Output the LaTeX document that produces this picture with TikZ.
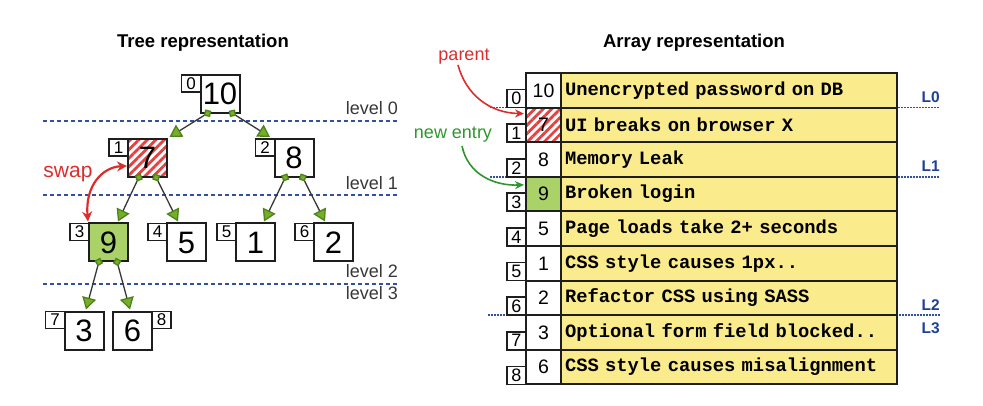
\documentclass[tikz,border=0pt]{standalone}
\usepackage{fontspec}
\setmainfont{Liberation Sans}
\setmonofont{Liberation Mono}
\usetikzlibrary{arrows.meta, positioning, patterns.meta}

\definecolor{boxgray}{RGB}{30,30,30}
\definecolor{edgegray}{RGB}{55,55,55}
\definecolor{tipgreen}{RGB}{115,175,40}
\definecolor{tipdark}{RGB}{80,130,25}
\definecolor{newgreen}{RGB}{170,210,105}
\definecolor{hatchred}{RGB}{230,65,65}
\definecolor{swapred}{RGB}{220,45,45}
\definecolor{entrygreen}{RGB}{45,150,45}
\definecolor{noteyellow}{RGB}{250,235,140}
\definecolor{levelblue}{RGB}{50,80,160}
\definecolor{markblue}{RGB}{30,65,150}
\definecolor{labelgray}{RGB}{55,55,55}

\tikzset{
  key/.style={draw=boxgray, line width=2pt, fill=white, outer sep=0pt, inner sep=0pt,
    minimum width=39pt, minimum height=38pt, font=\fontsize{31}{31}\selectfont},
  idx/.style={draw=boxgray, line width=1.8pt, fill=white, outer sep=0pt, inner sep=0pt,
    minimum width=19pt, minimum height=17pt, font=\fontsize{17}{17}\selectfont},
  hatched/.style={pattern={Lines[angle=45,distance=6pt,line width=2.8pt]}, pattern color=hatchred},
  picked/.style={fill=newgreen},
  whitecell/.style={fill=white},
  edge/.style={draw=edgegray, line width=1.3pt, shorten <=-4pt,
    {Diamond[length=9pt,width=9pt,fill=tipgreen,color=tipdark]}-{Triangle[length=12pt,width=14pt,fill=tipgreen,color=tipdark]}},
  level/.style={draw=levelblue, line width=1.8pt, dash pattern=on 4pt off 3pt},
  levelname/.style={text=labelgray, font=\fontsize{18}{18}\selectfont, anchor=base east, inner sep=0pt},
  title/.style={font=\bfseries\fontsize{18.5}{18.5}\selectfont, inner sep=0pt},
  cell/.style={draw=boxgray, line width=2pt, outer sep=0pt, inner sep=0pt,
    minimum width=35pt, minimum height=34.6pt, font=\fontsize{19.5}{19.5}\selectfont},
  desc/.style={draw=boxgray, line width=2pt, fill=noteyellow, outer sep=0pt, inner xsep=4pt, inner ysep=0pt,
    text width=328pt, align=left, minimum height=34.6pt, font=\ttfamily\bfseries\fontsize{18.8}{18.8}\selectfont},
  slot/.style={draw=boxgray, line width=1.8pt, fill=white, outer sep=0pt, inner sep=0pt,
    minimum width=19pt, minimum height=18pt, font=\fontsize{18}{18}\selectfont},
  arrlevel/.style={draw=levelblue, line width=1.6pt, dash pattern=on 1.5pt off 1.5pt},
  marker/.style={text=markblue, font=\bfseries\fontsize{15.5}{15.5}\selectfont, anchor=base east, inner sep=0pt},
  note/.style={font=\fontsize{18}{18}\selectfont, anchor=base, inner sep=0pt},
  pointer/.style={line width=1.6pt, -{Stealth[length=9pt,width=8pt]}}
}

\begin{document}
\begin{tikzpicture}[x=1pt,y=-1pt]
\useasboundingbox (0,0) rectangle (983,406);

% titles
\node[title] (treetitle) at (203,43) {Tree representation};
\node[title] (arraytitle) at (694,43) {Array representation};

% level lines of the tree
\draw[level] (43,121) -- (398,121);
\draw[level] (43,195) -- (398,195);
\draw[level] (43,284) -- (398,284);
\node[levelname] (lev0) at (398,115) {level 0};
\node[levelname] (lev1) at (398,190) {level 1};
\node[levelname] (lev2) at (398,277) {level 2};
\node[levelname] (lev3) at (398,299) {level 3};

% tree nodes
\node[key] (t0) at (220,94) {10};
\node[key, hatched] (t1) at (147.5,158) {7};
\node[key] (t2) at (294,158) {8};
\node[key, picked] (t3) at (108.5,242.5) {9};
\node[key] (t4) at (186.5,242.5) {5};
\node[key] (t5) at (255.5,242.5) {1};
\node[key] (t6) at (333.5,242.5) {2};
\node[key] (t7) at (84,330.5) {3};
\node[key] (t8) at (132.5,330.5) {6};

% index boxes
\node[idx, anchor=north east] (i0) at (t0.north west) {0};
\node[idx, anchor=north east] (i1) at (t1.north west) {1};
\node[idx, anchor=north east] (i2) at (t2.north west) {2};
\node[idx, anchor=north east] (i3) at (t3.north west) {3};
\node[idx, anchor=north east] (i4) at (t4.north west) {4};
\node[idx, anchor=north east] (i5) at (t5.north west) {5};
\node[idx, anchor=north east] (i6) at (t6.north west) {6};
\node[idx, anchor=north east] (i7) at (t7.north west) {7};
\node[idx, anchor=north west] (i8) at (t8.north east) {8};

% edges
\draw[edge] ([xshift=-12pt]t0.south) -- ([xshift=22pt,yshift=2pt]t1.north);
\draw[edge] ([xshift=12pt]t0.south) -- ([xshift=-24pt,yshift=2pt]t2.north);
\draw[edge] ([xshift=-8.5pt]t1.south) -- ([xshift=9.5pt,yshift=2pt]t3.north);
\draw[edge] ([xshift=8.5pt]t1.south) -- ([xshift=-8.5pt,yshift=2pt]t4.north);
\draw[edge] ([xshift=-8.5pt]t2.south) -- ([xshift=8.5pt,yshift=2pt]t5.north);
\draw[edge] ([xshift=8.5pt]t2.south) -- ([xshift=-8.5pt,yshift=2pt]t6.north);
\draw[edge] ([xshift=-9.5pt]t3.south) -- ([xshift=2pt,yshift=2pt]t7.north);
\draw[edge] ([xshift=8.5pt]t3.south) -- ([xshift=-2.5pt,yshift=2pt]t8.north);

% swap
\node[note, text=swapred, font=\fontsize{21}{21}\selectfont] (swap) at (68,178) {swap};
\draw[swapred, line width=2.2pt, {Stealth[length=10pt,width=10pt]}-{Stealth[length=10pt,width=10pt]}]
  ([xshift=-20.5pt,yshift=2pt]t3.north) .. controls (85,185) and (103,167) .. ([xshift=-1pt,yshift=-8pt]t1.west);

% level lines of the array
\draw[arrlevel] (490,107.6) -- (940,107.6);
\draw[arrlevel] (490,176.8) -- (940,176.8);
\draw[arrlevel] (488,315.2) -- (940,315.2);
\node[marker] (m0) at (940,103) {L0};
\node[marker] (m1) at (940,172) {L1};
\node[marker] (m2) at (940,310) {L2};
\node[marker] (m3) at (940,333) {L3};

% array rows
\foreach \val/\desctext/\look [count=\k from 0] in {
  10/Unencrypted password on DB/whitecell,
  7/UI breaks on browser X/hatched,
  8/Memory Leak/whitecell,
  9/Broken login/picked,
  5/Page loads take 2+ seconds/whitecell,
  1/CSS style causes 1px../whitecell,
  2/Refactor CSS using SASS/whitecell,
  3/Optional form field blocked../whitecell,
  6/CSS style causes misalignment/whitecell}
{
  \node[cell, \look] (v\k) at (543.5,90.3+34.6*\k) {\val};
  \node[desc, right=0pt of v\k] (d\k) {\desctext};
  \node[slot, anchor=south east] (n\k) at (v\k.south west) {\k};
}

% parent / new entry
\node[note, text=swapred] (parent) at (464,61) {parent};
\draw[pointer, swapred] ([xshift=-6pt]parent.south) .. controls (466,95) and (490,113) .. ([xshift=-2pt,yshift=-6pt]v1.north west);
\node[note, text=entrygreen] (newentry) at (453,139) {new entry};
\draw[pointer, entrygreen] ([xshift=9pt,yshift=-3pt]newentry.south) .. controls (468,175) and (495,186) .. ([xshift=-2pt,yshift=-8pt]v3.north west);
\end{tikzpicture}
\end{document}
